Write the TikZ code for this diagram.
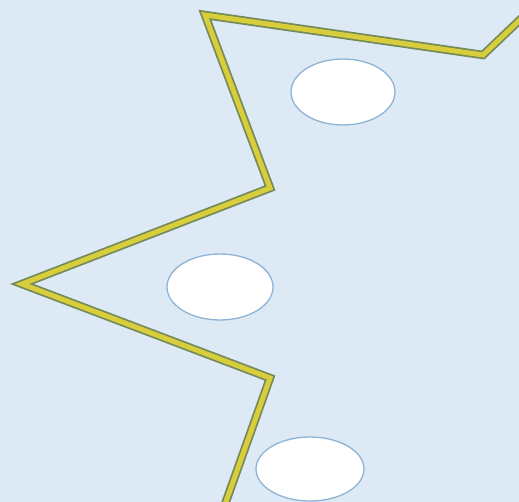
\documentclass[tikz,border=0pt]{standalone}
\usepackage{xcolor}
\usepackage{tikz}
\definecolor{paleblue}{HTML}{DDEAF6}
\definecolor{crackedge}{HTML}{748A58}
\definecolor{crackfill}{HTML}{D8CD3A}
\definecolor{holeedge}{HTML}{8DB3D6}

\begin{document}
\begin{tikzpicture}[x=1pt, y=-1pt,
        crackouter/.style={line width=8.5pt, crackedge, line join=miter},
        crackinner/.style={line width=5pt, crackfill, line join=miter},
        hole/.style={fill=white, draw=holeedge, line width=1.3pt}]
        % Background
        \fill[paleblue] (0, 0) rectangle (519, 502);
        \useasboundingbox (0, 0) rectangle (519, 502);
        
        % Zigzag crack
        \draw[crackouter] (525, 15) -- (483, 55) -- (205, 15) -- (270, 188)
            -- (22, 284) -- (270, 378) -- (223, 510);
        \draw[crackinner] (525, 15) -- (483, 55) -- (205, 15) -- (270, 188)
            -- (22, 284) -- (270, 378) -- (223, 510);
        
        % Holes
        \draw[hole] (343, 92) ellipse (52 and 33);
        \draw[hole] (220, 287) ellipse (53 and 33);
        \draw[hole] (310, 469) ellipse (54 and 32);
    \end{tikzpicture}
\end{document}
